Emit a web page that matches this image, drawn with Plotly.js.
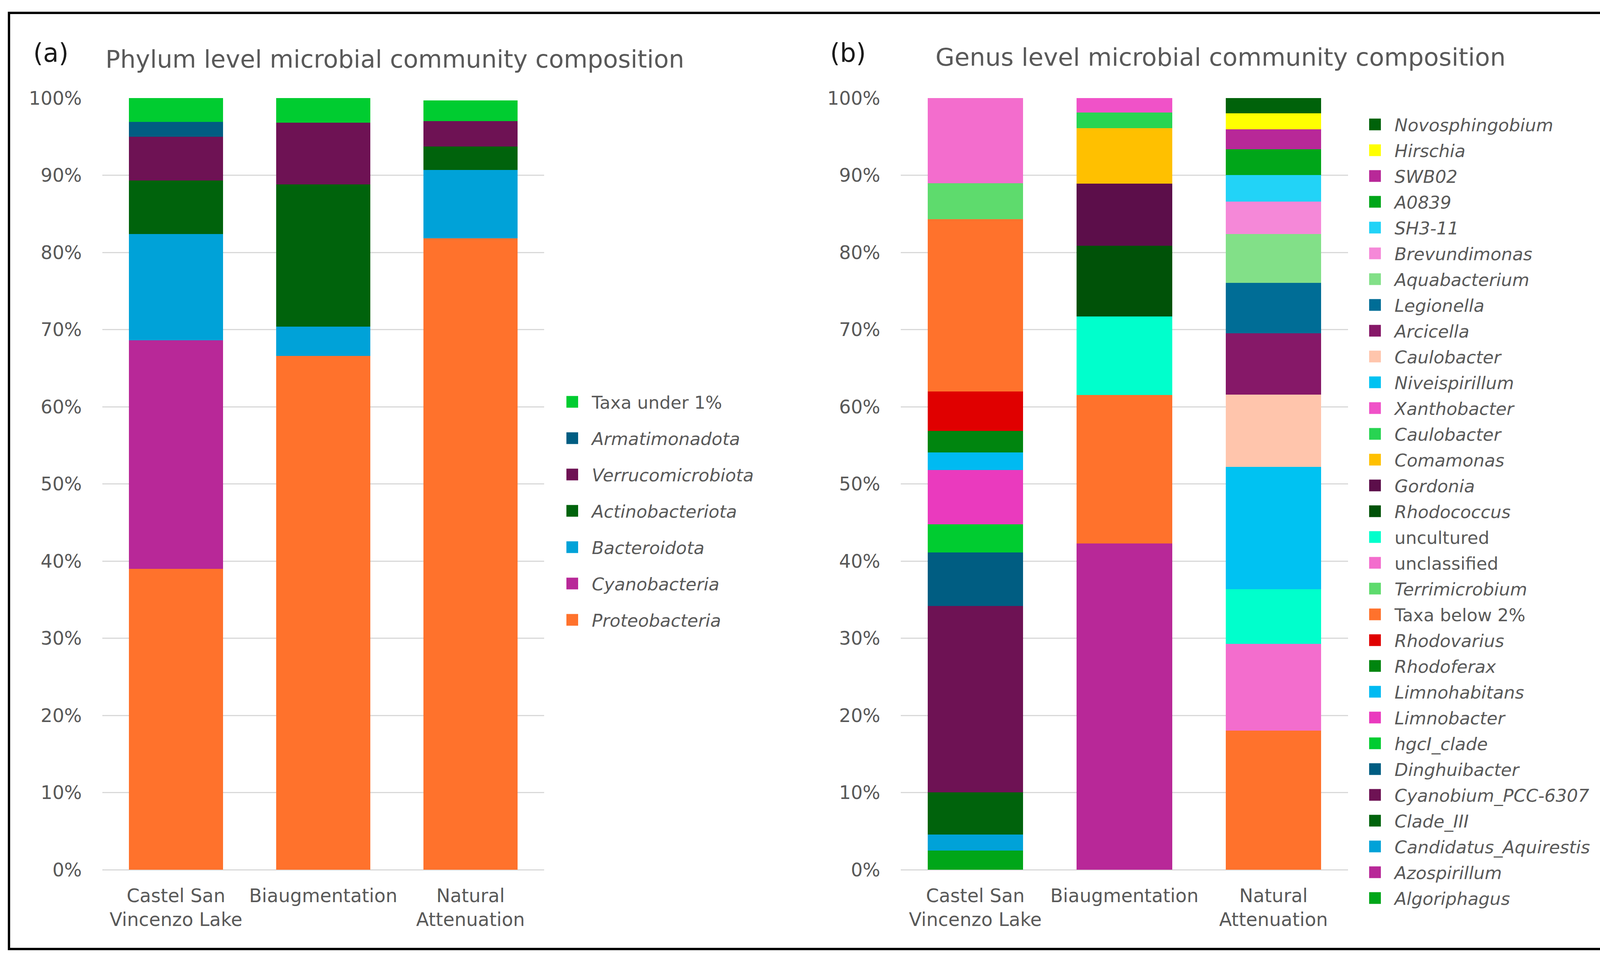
<!DOCTYPE html>
<html>
<head>
<meta charset="utf-8">
<script src="https://cdn.plot.ly/plotly-3.0.1.min.js"></script>
<style>
  html, body { margin: 0; padding: 0; background: #ffffff; overflow: hidden; }
  #wrap { width: 4182px; height: 2452px; overflow: hidden; }
  #chart { width: 1673px; height: 981px; transform: scale(2.5); transform-origin: 0 0; }
</style>
</head>
<body>
<div id="wrap"><div id="chart"></div></div>
<script>
// ---------------- DATA ----------------
const samples = ['Castel San<br>Vincenzo Lake', 'Biaugmentation', 'Natural<br>Attenuation'];

// Phylum level (%), order: [Castel San Vincenzo Lake, Biaugmentation, Natural Attenuation]
const phylumNames = ['<i>Proteobacteria</i>', '<i>Cyanobacteria</i>', '<i>Bacteroidota</i>',
  '<i>Actinobacteriota</i>', '<i>Verrucomicrobiota</i>', '<i>Armatimonadota</i>', 'Taxa under 1%'];
const proteobacteria    = [39.0, 66.6, 81.8];
const cyanobacteria     = [29.6, 0.0, 0.0];
const bacteroidota      = [13.8, 3.8, 8.9];
const actinobacteriota  = [6.9, 18.4, 3.0];
const verrucomicrobiota = [5.7, 8.0, 3.3];
const armatimonadota    = [1.9, 0.0, 0.0];
const taxaUnder1        = [3.1, 3.2, 2.7];

// Genus level (%), listed from bottom of the stack to top
const genusNames = ['<i>Algoriphagus</i>', '<i>Azospirillum</i>', '<i>Candidatus_Aquirestis</i>',
  '<i>Clade_III</i>', '<i>Cyanobium_PCC-6307</i>', '<i>Dinghuibacter</i>', '<i>hgcI_clade</i>',
  '<i>Limnobacter</i>', '<i>Limnohabitans</i>', '<i>Rhodoferax</i>', '<i>Rhodovarius</i>',
  'Taxa below 2%', '<i>Terrimicrobium</i>', 'unclassified', 'uncultured', '<i>Rhodococcus</i>',
  '<i>Gordonia</i>', '<i>Comamonas</i>', '<i>Caulobacter</i>', '<i>Xanthobacter</i>',
  '<i>Niveispirillum</i>', '<i>Caulobacter</i>', '<i>Arcicella</i>', '<i>Legionella</i>',
  '<i>Aquabacterium</i>', '<i>Brevundimonas</i>', '<i>SH3-11</i>', '<i>A0839</i>',
  '<i>SWB02</i>', '<i>Hirschia</i>', '<i>Novosphingobium</i>'];
const genusCastel = [2.5, 0, 2.04, 5.5, 24.15, 6.9, 3.65, 7.05, 2.3, 2.75, 5.15, 22.3, 4.65, 11.05,
  0, 0, 0, 0, 0, 0, 0, 0, 0, 0, 0, 0, 0, 0, 0, 0, 0];
const genusBiaug = [0, 42.3, 0, 0, 0, 0, 0, 0, 0, 0, 0, 19.2, 0, 0, 10.2, 9.15, 8.05, 7.2, 2.05, 1.85,
  0, 0, 0, 0, 0, 0, 0, 0, 0, 0, 0];
const genusNatural = [0, 0, 0, 0, 0, 0, 0, 0, 0, 0, 0, 18.05, 0, 11.2, 7.1, 0, 0, 0, 0, 0,
  15.85, 9.35, 7.95, 6.55, 6.35, 4.2, 3.45, 3.3, 2.6, 2.1, 2.0];

const yTickVals = [0, 10, 20, 30, 40, 50, 60, 70, 80, 90, 100];
const yTickText = yTickVals.map(v => v + '%');

// ---------------- STYLES ----------------
const phylumColors = ['#FF722C', '#B82898', '#00A2D8', '#00630C', '#6E1254', '#005D82', '#00CC30'];
const genusColors = ['#00A619', '#B82898', '#00A2D8', '#00630C', '#6E1254', '#005D82', '#00CC30',
  '#EA3ABE', '#00BAF2', '#00850F', '#E00000', '#FF722C', '#5EDB6D', '#F36DCD', '#00FFCC', '#005208',
  '#5C0E4A', '#FFC000', '#28D452', '#F052C8', '#00C2F2', '#FFC5AC', '#861868', '#006D96',
  '#82E088', '#F588D8', '#22D3F7', '#00A619', '#B82898', '#FFFF00', '#00620A'];

const S = 2.5, W = 1673, H = 981;
const fx = v => v / S / W;
const fy = v => 1 - v / S / H;
const grey = '#595959';
const FONT = 'DejaVu Sans, Open Sans, sans-serif';

// ---------------- TRACES ----------------
const phylumSeries = [proteobacteria, cyanobacteria, bacteroidota, actinobacteriota,
  verrucomicrobiota, armatimonadota, taxaUnder1];
const traces = [];
phylumSeries.forEach((vals, i) => {
  traces.push({
    type: 'bar', x: samples, y: vals, name: phylumNames[i],
    xaxis: 'x', yaxis: 'y', legend: 'legend', legendgroup: 'p' + i, legendrank: 100 - i,
    marker: { color: phylumColors[i], line: { width: 0 } },
    hoverinfo: 'name+y'
  });
});
genusNames.forEach((nm, i) => {
  traces.push({
    type: 'bar', x: samples, y: [genusCastel[i], genusBiaug[i], genusNatural[i]], name: nm,
    xaxis: 'x2', yaxis: 'y2', legend: 'legend2',
    marker: { color: genusColors[i], line: { width: 0 } },
    hoverinfo: 'name+y'
  });
});

const tickFont = { family: FONT, size: 19, color: grey };
const yAxisBase = {
  range: [0, 100], tickmode: 'array', tickvals: yTickVals, ticktext: yTickText, tickfont: tickFont,
  showgrid: true, gridcolor: '#D9D9D9', gridwidth: 1.2,
  zeroline: true, zerolinecolor: '#D9D9D9', zerolinewidth: 1.2,
  showline: false, ticks: '', ticklabelstandoff: 20, fixedrange: true
};
const xAxisBase = {
  tickfont: tickFont, showgrid: false, zeroline: false, showline: false, ticks: '',
  ticklabelstandoff: 13, fixedrange: true, tickangle: 0
};

const layout = {
  width: W, height: H,
  margin: { l: 0, r: 0, t: 0, b: 0 },
  paper_bgcolor: '#ffffff', plot_bgcolor: '#ffffff',
  barmode: 'stack', bargap: 0.36,
  font: { family: FONT, color: grey },
  showlegend: true,
  xaxis: Object.assign({}, xAxisBase, { domain: [fx(262), fx(1393)], anchor: 'y' }),
  yaxis: Object.assign({}, yAxisBase, { domain: [fy(2226), fy(251)], anchor: 'x' }),
  xaxis2: Object.assign({}, xAxisBase, { domain: [fx(2306), fx(3451)], anchor: 'y2' }),
  yaxis2: Object.assign({}, yAxisBase, { domain: [fy(2226), fy(251)], anchor: 'x2' }),
  legend: {
    x: fx(1415), y: fy(983), xanchor: 'left', yanchor: 'top',
    traceorder: 'grouped', tracegroupgap: 10.8,
    font: { family: FONT, size: 18, color: grey }, bgcolor: 'rgba(0,0,0,0)', borderwidth: 0
  },
  legend2: {
    x: fx(3470), y: fy(273), xanchor: 'left', yanchor: 'top',
    traceorder: 'reversed',
    font: { family: FONT, size: 18, color: grey }, bgcolor: 'rgba(0,0,0,0)', borderwidth: 0
  },
  annotations: [
    { text: '(a)', xref: 'paper', yref: 'paper', x: fx(130), y: fy(135), xanchor: 'center', yanchor: 'middle',
      showarrow: false, font: { family: FONT, size: 26, color: '#1a1a1a' } },
    { text: 'Phylum level microbial community composition', xref: 'paper', yref: 'paper',
      x: fx(266), y: fy(150), xanchor: 'left', yanchor: 'middle', showarrow: false,
      font: { family: FONT, size: 25, color: grey } },
    { text: '(b)', xref: 'paper', yref: 'paper', x: fx(2170), y: fy(135), xanchor: 'center', yanchor: 'middle',
      showarrow: false, font: { family: FONT, size: 26, color: '#1a1a1a' } },
    { text: 'Genus level microbial community composition', xref: 'paper', yref: 'paper',
      x: fx(2390), y: fy(147), xanchor: 'left', yanchor: 'middle', showarrow: false,
      font: { family: FONT, size: 25.2, color: grey } }
  ],
  shapes: [
    { type: 'rect', xref: 'paper', yref: 'paper', x0: fx(23), x1: fx(4160), y0: fy(2429), y1: fy(33),
      line: { color: '#000000', width: 2.4 }, fillcolor: 'rgba(0,0,0,0)' }
  ]
};

Plotly.newPlot('chart', traces, layout, { staticPlot: true, displayModeBar: false });
</script>
</body>
</html>
